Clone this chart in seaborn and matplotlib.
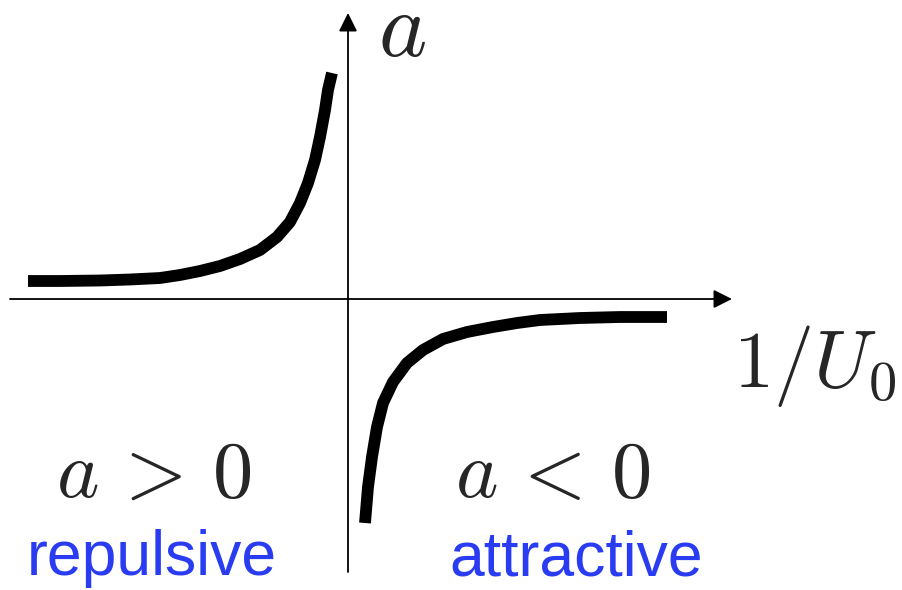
import matplotlib
matplotlib.use("Agg")
import matplotlib.pyplot as plt
import seaborn as sns
import pandas as pd

sns.set_theme(style="white")
plt.rcParams["font.family"] = ["Liberation Sans", "DejaVu Sans"]
plt.rcParams["mathtext.fontset"] = "cm"

# Scattering length a versus inverse interaction strength 1/U0 (schematic)
repulsive_x = [-3.20, -2.88, -2.48, -2.18, -1.88, -1.68, -1.48, -1.28, -1.08, -0.88,
               -0.71, -0.58, -0.48, -0.40, -0.33, -0.28, -0.23, -0.20, -0.16]
repulsive_a = [0.18, 0.18, 0.185, 0.195, 0.21, 0.24, 0.28, 0.33, 0.40, 0.49,
               0.62, 0.77, 0.96, 1.16, 1.39, 1.62, 1.89, 2.09, 2.26]
attractive_x = [0.17, 0.20, 0.24, 0.29, 0.35, 0.45, 0.59, 0.75, 0.95, 1.19,
                1.45, 1.69, 1.92, 2.32, 2.72, 3.19]
attractive_a = [-2.24, -1.88, -1.58, -1.28, -1.04, -0.83, -0.64, -0.51, -0.40, -0.33,
                -0.28, -0.24, -0.21, -0.19, -0.18, -0.18]

axis_x = [-3.38, 3.84]
axis_y = [-2.73, 2.86]

region_labels = [r"$a\,>\,\mathsf{0}$", r"$a\,<\,\mathsf{0}$"]
regime_labels = ["repulsive", "attractive"]

df = pd.concat([
    pd.DataFrame({"x": repulsive_x, "a": repulsive_a, "branch": "rep"}),
    pd.DataFrame({"x": attractive_x, "a": attractive_a, "branch": "att"}),
])

fig = plt.figure(figsize=(9.03, 5.90), dpi=100)
ax = fig.add_axes([0, 0, 1, 1])

# coordinate axes with arrow heads
arrow = dict(arrowstyle="-|>", color="black", lw=1.3, mutation_scale=28,
             shrinkA=0, shrinkB=0)
ax.annotate("", xy=(axis_x[1], 0), xytext=(axis_x[0], 0), arrowprops=arrow)
ax.annotate("", xy=(0, axis_y[1]), xytext=(0, axis_y[0]), arrowprops=arrow)

sns.lineplot(data=df, x="x", y="a", units="branch", estimator=None, sort=False,
             color="black", lw=8.5, solid_capstyle="butt", solid_joinstyle="round",
             ax=ax, legend=False)
ax.set_xlim(-3.48, 5.55)
ax.set_ylim(-2.91, 2.99)
ax.set_axis_off()

ax.text(0.54, 2.43, r"$a$", fontsize=66, ha="center", va="baseline")
ax.text(3.85, -0.88, r"$1/U_\mathsf{0}$", fontsize=58, ha="left", va="baseline")

ax.text(-1.94, -1.98, region_labels[0], fontsize=58, ha="center", va="baseline")
ax.text(2.055, -1.98, region_labels[1], fontsize=58, ha="center", va="baseline")

blue = "#2a3cf2"
ax.text(-1.965, -2.76, regime_labels[0], fontsize=45, color=blue, ha="center", va="baseline")
ax.text(2.285, -2.76, regime_labels[1], fontsize=45, color=blue, ha="center", va="baseline")

fig.savefig("out.png", dpi=100)
